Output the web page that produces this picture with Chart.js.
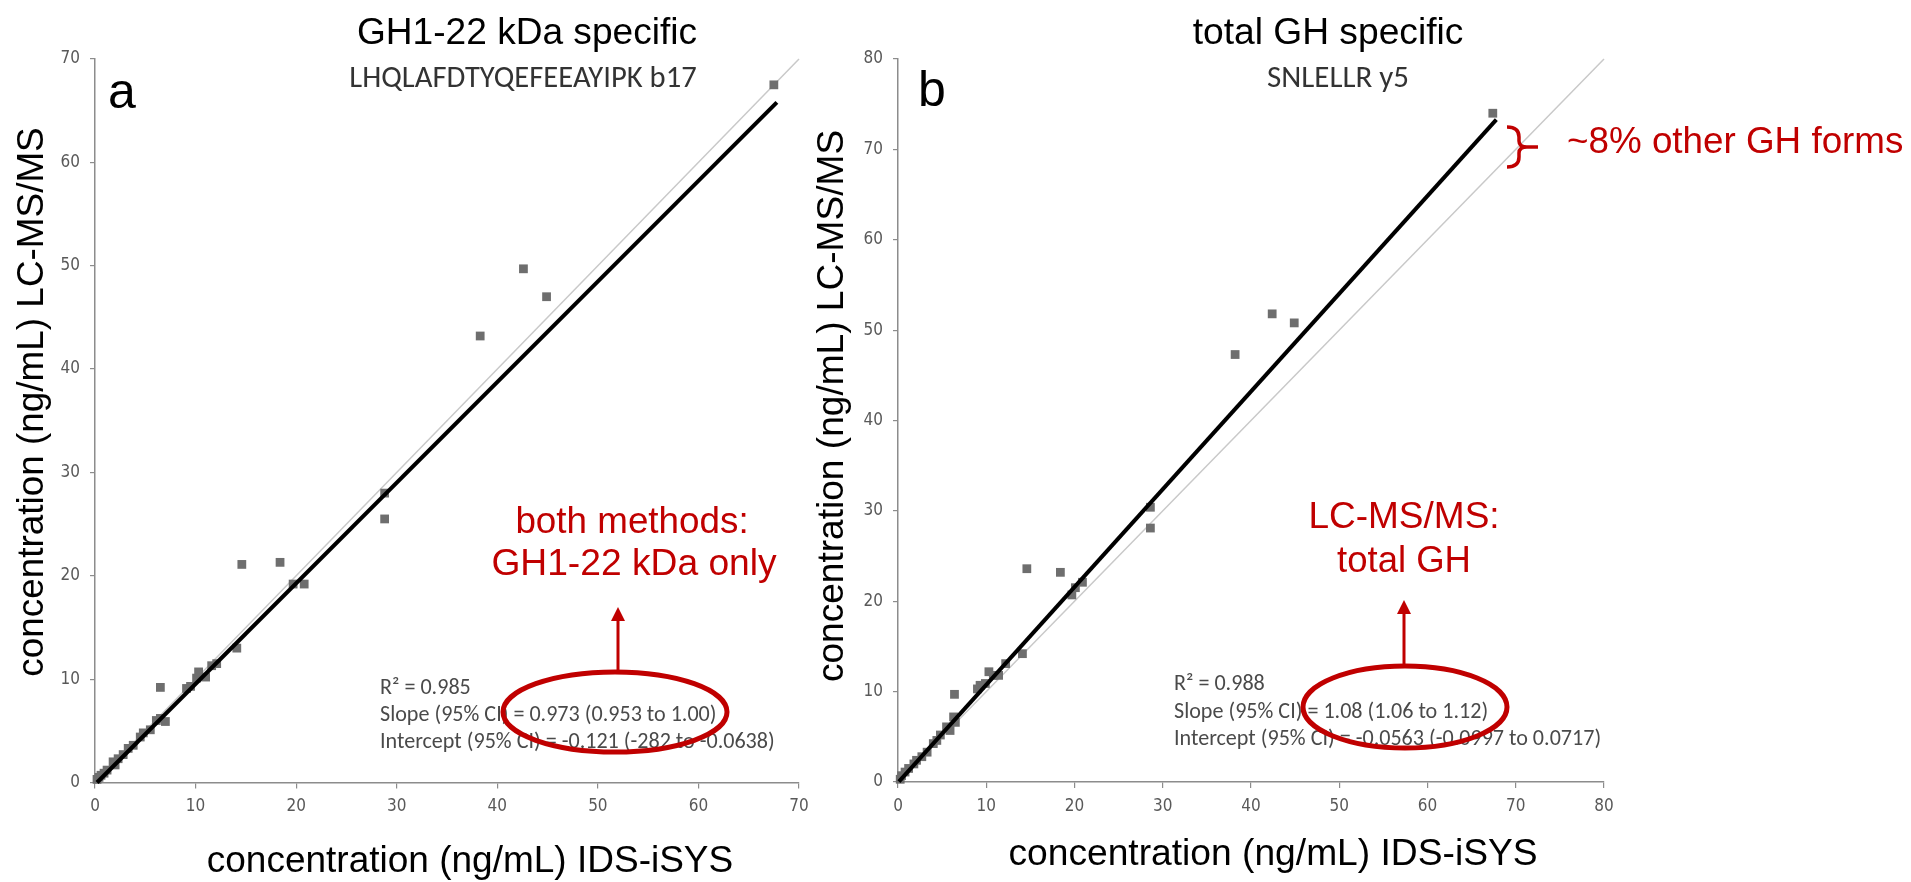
<!DOCTYPE html>
<html>
<head>
<meta charset="utf-8">
<script src="https://cdn.jsdelivr.net/npm/chart.js@4.4.1/dist/chart.umd.min.js"></script>
<style>
  html, body { margin: 0; padding: 0; background: #fff; }
  #wrap { position: relative; width: 1911px; height: 882px; }
  #wrap canvas { position: absolute; left: 0; top: 0; }
</style>
</head>
<body>
<div id="wrap">
  <canvas id="chartA" width="1911" height="882"></canvas>
  <canvas id="chartB" width="1911" height="882"></canvas>
</div>
<script>
// panel a: GH1-22 kDa specific
var aX = [0.2, 0.4, 0.6, 0.9, 1.2, 1.8, 2.0, 2.3, 2.8, 3.3, 3.8, 4.5, 4.8, 5.5, 6.1, 6.5, 7.0, 6.5, 9.1, 9.5,
          10.1, 10.3, 11.0, 11.6, 12.1, 14.1, 14.6, 18.4, 19.7, 20.8, 28.8, 28.8, 38.3, 42.6, 44.9, 67.5];
var aY = [0.3, 0.5, 0.7, 0.9, 1.2, 2.0, 1.7, 2.3, 2.7, 3.3, 3.6, 4.4, 4.8, 5.1, 6.0, 6.2, 5.9, 9.2, 9.1, 9.3,
          10.1, 10.7, 10.2, 11.3, 11.5, 13.0, 21.1, 21.3, 19.2, 19.2, 28.0, 25.5, 43.2, 49.7, 47.0, 67.5];
var aFitX = [0.2, 67.8];
var aFitY = [0.0, 65.8];
var aIdX = [0, 70];
var aIdY = [0, 70];
var aMax = 70;

// panel b: total GH specific
var bX = [0.25, 0.4, 0.8, 1.2, 1.8, 2.1, 2.7, 3.3, 4.0, 4.4, 4.8, 5.5, 5.9, 6.3, 6.5, 6.4, 9.0, 9.3, 9.9, 10.3,
          10.8, 11.4, 12.2, 14.1, 14.6, 18.4, 19.7, 20.1, 20.9, 28.6, 28.6, 38.2, 42.4, 44.9, 67.4];
var bY = [0.3, 0.7, 1.1, 1.5, 2.0, 2.4, 2.8, 3.3, 4.25, 4.6, 5.2, 6.1, 5.7, 7.2, 6.6, 9.7, 10.3, 10.7, 10.9, 12.2,
          11.8, 11.8, 13.1, 14.2, 23.6, 23.2, 20.7, 21.5, 22.1, 30.4, 28.1, 47.3, 51.8, 50.8, 74.0];
var bFitX = [0.1, 67.8];
var bFitY = [0.05, 73.3];
var bIdX = [0, 80];
var bIdY = [0, 80];
var bMax = 80;

var tickStep = 10;

var RED = '#c00000';
var ARIAL = '"Liberation Sans", Arial, sans-serif';
var CALI = 'Carlito, Lato, sans-serif';
var NARROW = '"Liberation Sans Narrow", "DejaVu Sans Condensed", Carlito, Lato, sans-serif';

function pts(xs, ys) {
  return xs.map(function (x, i) { return { x: x, y: ys[i] }; });
}

function fitText(ctx, t) {
  ctx.save();
  var size = t.size;
  if (!size) {
    ctx.font = '100px ' + t.family;
    size = 100 * t.width / ctx.measureText(t.text).width;
  }
  ctx.font = size.toFixed(1) + 'px ' + t.family;
  ctx.fillStyle = t.color || '#000';
  ctx.textBaseline = t.baseline || 'middle';
  ctx.textAlign = t.align || 'center';
  ctx.translate(t.x, t.y);
  if (t.rotate) ctx.rotate(-Math.PI / 2);
  ctx.fillText(t.text, 0, 0);
  ctx.restore();
  return size;
}

function sizeFor(ctx, text, family, width) {
  ctx.font = '100px ' + family;
  return 100 * width / ctx.measureText(text).width;
}

function drawEllipse(ctx, cx, cy, rx, ry) {
  ctx.save();
  ctx.strokeStyle = RED;
  ctx.lineWidth = 5;
  ctx.beginPath();
  ctx.ellipse(cx, cy, rx, ry, 0, 0, Math.PI * 2);
  ctx.stroke();
  ctx.restore();
}

function drawArrow(ctx, x, y0, y1) {
  ctx.save();
  ctx.strokeStyle = RED;
  ctx.fillStyle = RED;
  ctx.lineWidth = 3;
  ctx.beginPath();
  ctx.moveTo(x, y0);
  ctx.lineTo(x, y1 + 12);
  ctx.stroke();
  ctx.beginPath();
  ctx.moveTo(x, y1);
  ctx.lineTo(x - 7, y1 + 14);
  ctx.lineTo(x + 7, y1 + 14);
  ctx.closePath();
  ctx.fill();
  ctx.restore();
}

function drawStats(ctx, lines, x, ys, widestWidth) {
  var size = sizeFor(ctx, lines[2], CALI, widestWidth);
  lines.forEach(function (s, i) {
    fitText(ctx, { text: s, x: x, y: ys[i], size: size, family: CALI, color: '#4a4a4a', align: 'left' });
  });
}

var annotA = {
  id: 'annotA',
  afterDraw: function (chart) {
    var ctx = chart.ctx;
    fitText(ctx, { text: 'GH1-22 kDa specific', x: 527, y: 34, width: 340, family: ARIAL });
    fitText(ctx, { text: 'LHQLAFDTYQEFEEAYIPK b17', x: 523, y: 79, width: 347, family: CALI, color: '#333' });
    fitText(ctx, { text: 'a', x: 108, y: 108, size: 50, family: ARIAL, align: 'left', baseline: 'alphabetic' });
    fitText(ctx, { text: 'concentration (ng/mL) LC-MS/MS', x: 33, y: 402, width: 550, family: ARIAL, rotate: true });
    fitText(ctx, { text: 'concentration (ng/mL) IDS-iSYS', x: 470, y: 862, width: 527, family: ARIAL });
    fitText(ctx, { text: 'both methods:', x: 632, y: 523, width: 233, family: ARIAL, color: RED });
    fitText(ctx, { text: 'GH1-22 kDa only', x: 634, y: 565, width: 285, family: ARIAL, color: RED });
    drawStats(ctx, ['R\u00b2 = 0.985', 'Slope (95% CI) = 0.973 (0.953 to 1.00)',
                    'Intercept (95% CI) = -0.121 (-282 to -0.0638)'], 380, [688, 715, 742], 395);
    drawArrow(ctx, 618, 672, 607);
    drawEllipse(ctx, 615, 712, 112, 40);
  }
};

var annotB = {
  id: 'annotB',
  afterDraw: function (chart) {
    var ctx = chart.ctx;
    fitText(ctx, { text: 'total GH specific', x: 1328, y: 34, width: 271, family: ARIAL });
    fitText(ctx, { text: 'SNLELLR y5', x: 1338, y: 79, width: 142, family: CALI, color: '#333' });
    fitText(ctx, { text: 'b', x: 918, y: 106, size: 50, family: ARIAL, align: 'left', baseline: 'alphabetic' });
    fitText(ctx, { text: 'concentration (ng/mL) LC-MS/MS', x: 833, y: 406, width: 552, family: ARIAL, rotate: true });
    fitText(ctx, { text: 'concentration (ng/mL) IDS-iSYS', x: 1273, y: 855, width: 529, family: ARIAL });
    fitText(ctx, { text: 'LC-MS/MS:', x: 1404, y: 518, width: 191, family: ARIAL, color: RED });
    fitText(ctx, { text: 'total GH', x: 1404, y: 562, width: 134, family: ARIAL, color: RED });
    fitText(ctx, { text: '~8% other GH forms', x: 1567, y: 143, width: 336, family: ARIAL, color: RED, align: 'left' });
    drawStats(ctx, ['R\u00b2 = 0.988', 'Slope (95% CI) = 1.08 (1.06 to 1.12)',
                    'Intercept (95% CI) = -0.0563 (-0.0997 to 0.0717)'], 1174, [684, 712, 739], 428);
    drawArrow(ctx, 1404, 665, 600);
    drawEllipse(ctx, 1405, 707, 102, 41);

    // curly bracket next to the end of the fit line
    ctx.save();
    ctx.strokeStyle = RED;
    ctx.lineWidth = 3.5;
    ctx.beginPath();
    ctx.moveTo(1507, 127);
    ctx.quadraticCurveTo(1519, 127, 1519, 137);
    ctx.lineTo(1519, 141);
    ctx.quadraticCurveTo(1519, 147, 1527, 147);
    ctx.quadraticCurveTo(1519, 147, 1519, 153);
    ctx.lineTo(1519, 157);
    ctx.quadraticCurveTo(1519, 167, 1507, 167);
    ctx.moveTo(1525, 147);
    ctx.lineTo(1538, 147);
    ctx.stroke();
    ctx.restore();
  }
};

function axis(max, size, isY) {
  return {
    type: 'linear',
    min: 0,
    max: max,
    border: { color: '#8c8c8c', width: 1.5 },
    grid: { drawOnChartArea: false, drawTicks: true, tickLength: isY ? 5 : 6, color: '#8c8c8c', lineWidth: 1.2 },
    ticks: {
      stepSize: tickStep,
      padding: isY ? 10 : 8,
      color: '#595959',
      font: { family: NARROW, size: 17 }
    },
    afterFit: function (s) {
      if (isY) s.width = size; else s.height = size;
    }
  };
}

function panel(id, xs, ys, fx, fy, ix, iy, max, pad, yW, xH, plugin) {
  return new Chart(document.getElementById(id), {
    type: 'scatter',
    data: {
      datasets: [
        {
          label: 'fit',
          data: pts(fx, fy),
          showLine: true,
          borderColor: '#000',
          borderWidth: 4,
          pointRadius: 0,
          order: 0,
          clip: false
        },
        {
          label: 'samples',
          data: pts(xs, ys),
          pointStyle: 'rect',
          pointRadius: 6.2,
          pointBackgroundColor: '#6e6e6e',
          pointBorderWidth: 0,
          order: 1,
          clip: false
        },
        {
          label: 'identity',
          data: pts(ix, iy),
          showLine: true,
          borderColor: '#c9c9c9',
          borderWidth: 1.5,
          pointRadius: 0,
          order: 2,
          clip: false
        }
      ]
    },
    options: {
      responsive: false,
      animation: false,
      layout: { padding: pad },
      plugins: { legend: { display: false }, tooltip: { enabled: false } },
      scales: {
        x: axis(max, xH, false),
        y: axis(max, yW, true)
      }
    },
    plugins: [plugin]
  });
}

panel('chartA', aX, aY, aFitX, aFitY, aIdX, aIdY, aMax,
      { left: 0, right: 1112, top: 59, bottom: 0 }, 95, 99.5, annotA);
panel('chartB', bX, bY, bFitX, bFitY, bIdX, bIdY, bMax,
      { left: 838, right: 307, top: 59, bottom: 0 }, 60, 100, annotB);
</script>
</body>
</html>
